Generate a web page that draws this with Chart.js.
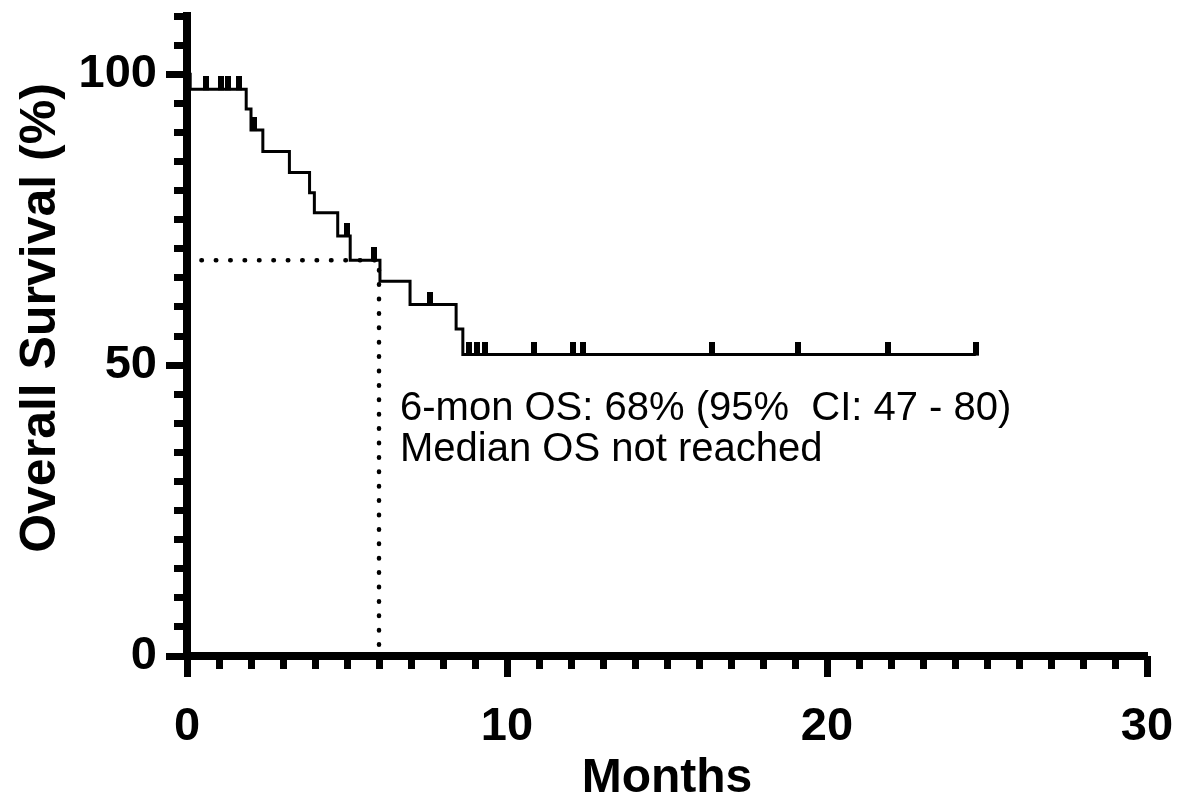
<!DOCTYPE html>
<html lang="en">
<head>
<meta charset="UTF-8">
<title>Overall Survival</title>
<script src="https://cdn.jsdelivr.net/npm/chart.js"></script>
<style>
  html, body { margin: 0; padding: 0; background: #fff; }
  canvas { display: block; }
</style>
</head>
<body>
<canvas id="osChart" width="1178" height="803"></canvas>
<script>
// Kaplan-Meier curve: month of each drop and survival (%) after it; last entry is the last follow-up
const stepMonths   = [0, 0.1, 1.85, 2.0, 2.37, 3.2, 3.83, 3.98, 4.71, 5.1, 6.03, 6.97, 8.41, 8.62, 24.65];
const stepSurvival = [100, 97.4, 94.0, 90.4, 86.7, 83.1, 79.6, 76.2, 72.2, 68, 64.4, 60.4, 56.2, 51.8, 51.8];

// censored patients (months)
const censorMonths = [0.6, 1.05, 1.27, 1.64, 2.08, 5.0, 5.85, 7.58, 8.8, 9.06, 9.3,
                      10.83, 12.06, 12.37, 16.4, 19.1, 21.9, 24.65];

// 6-month landmark
const landmarkMonth = 6;
const landmarkOS = 68;

const xMajorTicks = [0, 10, 20, 30];
const xMinorTicks = Array.from({ length: 31 }, (_, i) => i);
const yMajorTicks = [0, 50, 100];
const yMinorTicks = Array.from({ length: 23 }, (_, i) => i * 5);

const xTitle = 'Months';
const yTitle = 'Overall Survival (%)';
const noteLines = ['6-mon OS: 68% (95%  CI: 47 - 80)', 'Median OS not reached'];

const FONT = '"Liberation Sans", Arial, sans-serif';
Chart.defaults.font.family = FONT;
Chart.defaults.color = '#000';

function survivalAt(t) {
  let s = stepSurvival[0];
  for (let i = 0; i < stepMonths.length; i++) {
    if (stepMonths[i] <= t) s = stepSurvival[i];
  }
  return s;
}

// small black tick that sits on top of the curve
function censorMark() {
  const c = document.createElement('canvas');
  c.width = 6;
  c.height = 26;
  const g = c.getContext('2d');
  g.fillStyle = '#000';
  g.fillRect(0, 0, 6, 14);
  return c;
}

// fixed axis sizes so the plot box lands where we want it
function pin(size) {
  return s => {
    if (s.isHorizontal()) {
      s.height = size;
      s.paddingLeft = 0;
      s.paddingRight = 0;
    } else {
      s.width = size;
      s.paddingTop = 0;
      s.paddingBottom = 0;
    }
  };
}
function useTicks(values) {
  return s => { s.ticks = values.map(v => ({ value: v })); };
}

const tickFont = { size: 47, weight: 'bold' };

function axisPair(axis, max, major, minor, pos, majorSize) {
  return [{
    axis, type: 'linear', position: pos, min: 0, max, weight: 1,
    afterBuildTicks: useTicks(major),
    afterFit: pin(majorSize),
    grid: { drawOnChartArea: false, tickLength: 21, tickWidth: 7, tickColor: '#000' },
    border: { display: true, width: 8, color: '#000' },
    ticks: { font: tickFont, color: '#000', padding: axis === 'x' ? 22 : 9, autoSkip: false, maxRotation: 0 }
  }, {
    axis, type: 'linear', position: pos, min: 0, max, weight: 0,
    afterBuildTicks: useTicks(minor),
    afterFit: pin(0),
    grid: { drawOnChartArea: false, tickLength: 13, tickWidth: 7, tickColor: '#000' },
    border: { display: false },
    ticks: { display: false }
  }];
}

const [xMain, xMinor] = axisPair('x', 30, xMajorTicks, xMinorTicks, 'bottom', 147);
xMain.title = { display: true, text: xTitle, color: '#000', font: { size: 48, weight: 'bold', lineHeight: 1 }, padding: 0 };
const [yMain, yMinor] = axisPair('y', 110, yMajorTicks, yMinorTicks, 'left', 187);

const textPlugin = {
  id: 'osText',
  afterDraw(chart) {
    const { ctx, scales } = chart;
    ctx.save();
    ctx.fillStyle = '#000';
    ctx.font = 'bold 50px ' + FONT;
    ctx.textAlign = 'center';
    ctx.textBaseline = 'middle';
    ctx.translate(41, 318);
    ctx.rotate(-Math.PI / 2);
    ctx.fillText(yTitle, 0, 0);
    ctx.restore();

    ctx.save();
    ctx.fillStyle = '#000';
    ctx.font = '40px ' + FONT;
    ctx.textAlign = 'left';
    ctx.textBaseline = 'alphabetic';
    const x0 = scales.x.getPixelForValue(landmarkMonth) + 21;
    noteLines.forEach((line, i) => ctx.fillText(line, x0, 420 + i * 41));
    ctx.restore();
  }
};

new Chart(document.getElementById('osChart'), {
  type: 'line',
  data: {
    datasets: [{
      // dotted guide to the 6-month estimate
      data: [
        { x: 0, y: landmarkOS },
        { x: landmarkMonth, y: landmarkOS },
        { x: landmarkMonth, y: 0 }
      ],
      borderColor: '#000',
      borderWidth: 4.5,
      borderDash: [0.5, 13.9],
      borderCapStyle: 'round',
      pointRadius: 0,
      fill: false
    }, {
      data: stepMonths.map((m, i) => ({ x: m, y: stepSurvival[i] })),
      stepped: true,
      borderColor: '#000',
      borderWidth: 3,
      pointRadius: 0,
      fill: false
    }, {
      data: censorMonths.map(m => ({ x: m, y: survivalAt(m) })),
      showLine: false,
      pointStyle: censorMark(),
      pointRadius: 3,
      pointBackgroundColor: '#000',
      pointBorderColor: '#000'
    }]
  },
  options: {
    responsive: false,
    animation: false,
    devicePixelRatio: 1,
    layout: { padding: { left: 0, right: 31, top: 16, bottom: 0 } },
    plugins: { legend: { display: false }, tooltip: { enabled: false } },
    scales: { x: xMain, xMinor, y: yMain, yMinor }
  },
  plugins: [textPlugin]
});
</script>
</body>
</html>
